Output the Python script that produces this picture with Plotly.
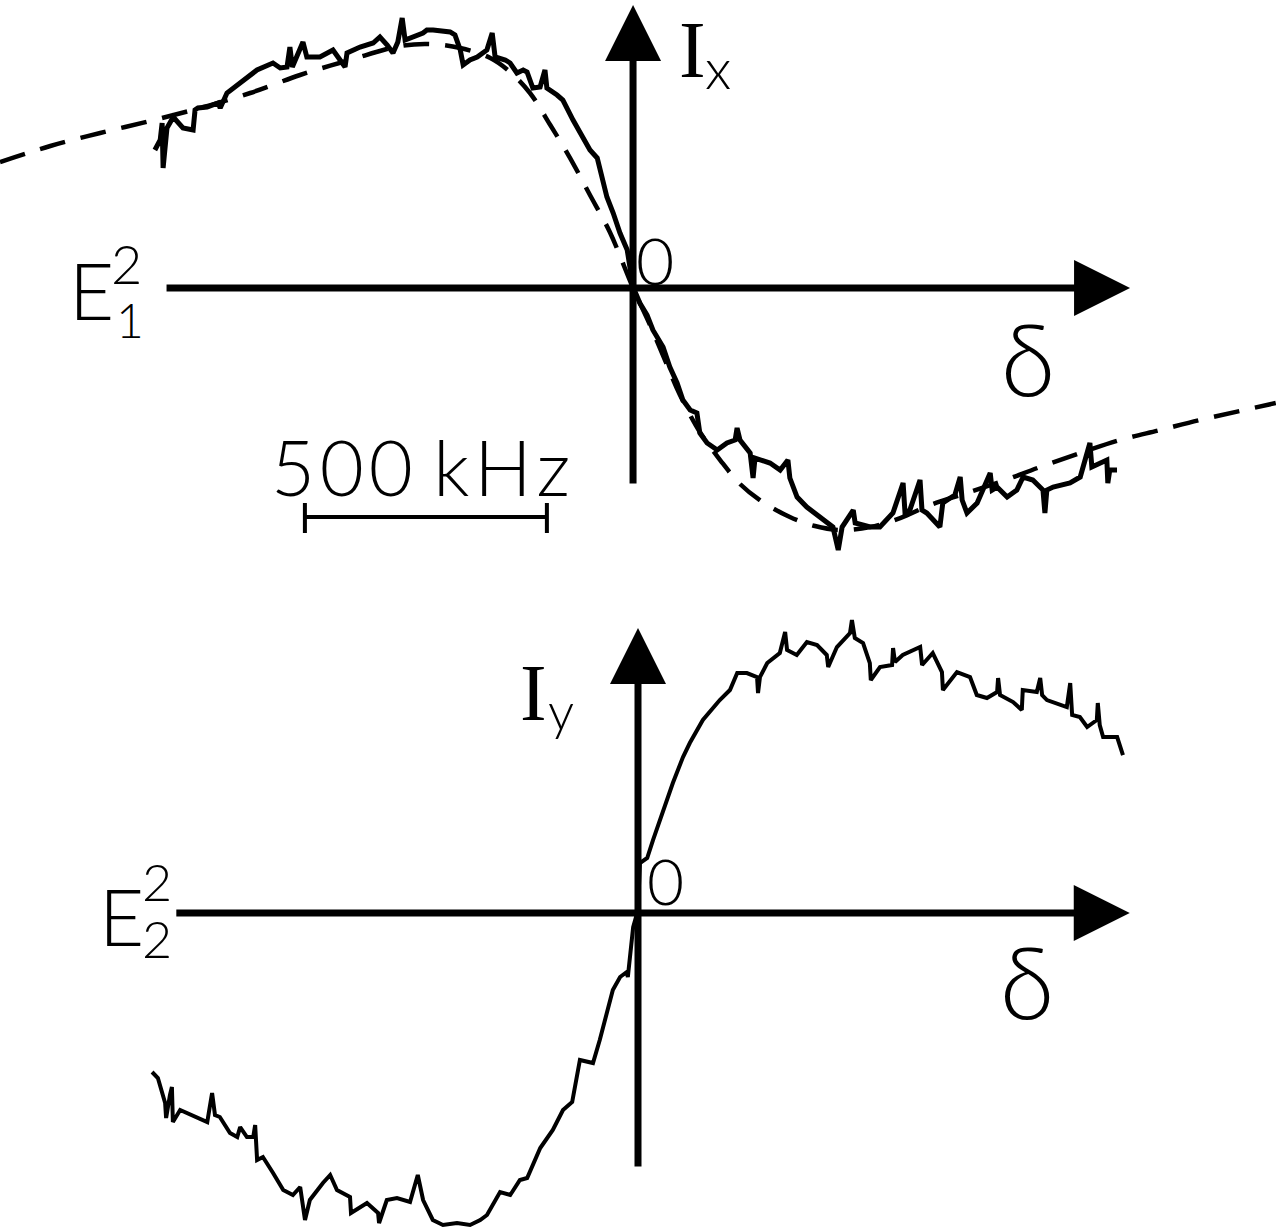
import plotly.graph_objects as go

# Detuning delta in kHz (500 kHz scale bar), signals in arbitrary units.
# Top trace: I_x (dispersive signal) with fitted curve (dashed)
ix_detuning = [
    -988, -977, -973, -971, -963, -950, -930, -909, -905, -899,
    -880, -857, -853, -839, -812, -797, -777, -744, -729, -715,
    -709, -704, -682, -674, -647, -620, -595, -591, -564, -537,
    -523, -508, -496, -486, -477, -471, -455, -434, -426, -413,
    -378, -368, -357, -351, -337, -322, -302, -291, -285, -264,
    -254, -240, -227, -219, -207, -192, -182, -178, -157, -145,
    -124, -110, -89, -74, -62, -54, -41, -27, -12, -6,
    0, 14, 29, 41, 62, 76, 91, 103, 118, 132,
    138, 153, 174, 194, 211, 215, 221, 242, 248, 252,
    283, 304, 320, 324, 339, 359, 386, 413, 424, 432,
    455, 459, 490, 510, 537, 558, 562, 572, 593, 597,
    607, 634, 640, 665, 676, 680, 690, 711, 738, 742,
    752, 773, 793, 806, 826, 847, 851, 855, 868, 903,
    924, 944, 948, 979, 981, 985, 1000]
ix_signal = [
    1.38, 1.48, 1.65, 1.20, 1.60, 1.71, 1.60, 1.58, 1.78, 1.80,
    1.81, 1.85, 1.80, 1.95, 2.05, 2.11, 2.18, 2.25, 2.20, 2.21,
    2.41, 2.21, 2.46, 2.31, 2.31, 2.38, 2.21, 2.35, 2.41, 2.45,
    2.51, 2.43, 2.35, 2.46, 2.70, 2.48, 2.51, 2.55, 2.58, 2.58,
    2.56, 2.53, 2.38, 2.23, 2.28, 2.31, 2.38, 2.55, 2.31, 2.28,
    2.25, 2.15, 2.18, 2.16, 2.00, 2.01, 2.18, 2.00, 1.93, 1.88,
    1.68, 1.55, 1.38, 1.30, 1.08, 0.91, 0.75, 0.55, 0.38, 0.21,
    0.01, -0.15, -0.27, -0.42, -0.59, -0.79, -0.95, -1.12, -1.22, -1.25,
    -1.45, -1.55, -1.62, -1.55, -1.52, -1.40, -1.52, -1.65, -1.90, -1.70,
    -1.75, -1.82, -1.72, -1.90, -2.09, -2.19, -2.29, -2.39, -2.62, -2.39,
    -2.22, -2.35, -2.39, -2.39, -2.25, -1.95, -2.25, -2.22, -1.92, -2.22,
    -2.25, -2.39, -2.15, -2.07, -1.89, -2.12, -2.25, -2.15, -1.85, -2.02,
    -1.99, -2.09, -2.02, -1.89, -1.92, -2.02, -2.25, -2.02, -1.99, -1.95,
    -1.89, -1.55, -1.79, -1.72, -1.95, -1.82, -1.82]

ix_fit_detuning = [-1308, -1204, -1101, -998, -895, -791, -688, -585, -481, -419,
                   -357, -295, -254, -213, -171, -130, -89, -48, 0, 35,
                   66, 97, 138, 180, 221, 262, 324, 376, 428, 490,
                   552, 614, 676, 758, 841, 924, 1006, 1089, 1171, 1254, 1328]
ix_fit_signal = [1.26, 1.42, 1.55, 1.67, 1.80, 1.95, 2.13, 2.28, 2.42, 2.44,
                 2.40, 2.30, 2.16, 1.95, 1.63, 1.30, 0.93, 0.56, 0.0, -0.37,
                 -0.72, -1.07, -1.44, -1.72, -1.96, -2.12, -2.29, -2.38, -2.42, -2.39,
                 -2.30, -2.17, -2.07, -1.94, -1.79, -1.65, -1.52, -1.42, -1.32, -1.23, -1.15]

# Bottom trace: I_y
iy_detuning = [
    -1004, -992, -977, -975, -967, -963, -961, -946, -890, -880,
    -874, -864, -843, -828, -822, -808, -795, -791, -787, -775,
    -754, -733, -713, -698, -688, -678, -651, -636, -622, -595,
    -593, -560, -537, -535, -519, -498, -471, -455, -444, -424,
    -403, -374, -347, -326, -312, -285, -264, -244, -229, -202,
    -176, -155, -136, -120, -93, -79, -52, -37, -23, -21,
    -10, 0,
    4, 19, 31, 52, 72, 93, 107, 134, 169, 190,
    205, 225, 246, 248, 252, 267, 293, 304, 308, 328,
    349, 370, 390, 393, 411, 438, 442, 448, 465, 479,
    481, 500, 525, 527, 531, 547, 583, 587, 609, 628,
    630, 659, 686, 700, 721, 742, 744, 748, 775, 793,
    795, 824, 831, 835, 845, 886, 893, 897, 913, 928,
    948, 950, 954, 961, 990, 1002]
iy_signal = [
    -1.59, -1.65, -1.90, -2.05, -1.82, -1.74, -2.09, -1.97, -2.09, -1.80,
    -2.02, -2.04, -2.20, -2.24, -2.14, -2.24, -2.24, -2.12, -2.47, -2.44,
    -2.60, -2.77, -2.82, -2.74, -3.07, -2.87, -2.70, -2.62, -2.77, -2.84,
    -3.00, -2.90, -3.00, -3.10, -2.87, -2.85, -2.89, -2.62, -2.87, -3.07,
    -3.12, -3.10, -3.12, -3.07, -3.02, -2.79, -2.82, -2.67, -2.65, -2.35,
    -2.17, -1.97, -1.89, -1.47, -1.50, -1.27, -0.77, -0.64, -0.59, -0.64,
    -0.14, 0.03,
    0.50, 0.55, 0.73, 1.03, 1.30, 1.56, 1.70, 1.93, 2.13, 2.23,
    2.40, 2.40, 2.36, 2.20, 2.36, 2.50, 2.60, 2.81, 2.63, 2.58,
    2.71, 2.68, 2.58, 2.46, 2.66, 2.80, 2.93, 2.75, 2.70, 2.50,
    2.33, 2.46, 2.48, 2.65, 2.51, 2.58, 2.66, 2.48, 2.60, 2.41,
    2.23, 2.41, 2.36, 2.18, 2.15, 2.21, 2.35, 2.18, 2.11, 2.03,
    2.23, 2.21, 2.35, 2.18, 2.13, 2.06, 2.30, 1.98, 1.96, 1.86,
    1.93, 2.10, 1.88, 1.76, 1.76, 1.58]

scale_bar_khz = 500
scale_bar_start = -678

W, H = 1276, 1232
SANS = "Lato, DejaVu Sans"
SERIF = "Liberation Serif, DejaVu Serif"

fig = go.Figure()
fig.add_trace(go.Scatter(x=ix_fit_detuning, y=ix_fit_signal, mode="lines",
                         line=dict(color="black", width=4.5, dash="26px,16px", shape="spline"),
                         xaxis="x", yaxis="y"))
fig.add_trace(go.Scatter(x=ix_detuning, y=ix_signal, mode="lines",
                         line=dict(color="black", width=5), xaxis="x", yaxis="y"))
fig.add_trace(go.Scatter(x=iy_detuning, y=iy_signal, mode="lines",
                         line=dict(color="black", width=4), xaxis="x2", yaxis="y2"))


def axis_arrow(x0, y0, x1, y1, xr, yr):
    return dict(x=x1, y=y1, ax=x0, ay=y0, xref=xr, yref=yr, axref=xr, ayref=yr,
                text="", showarrow=True, arrowhead=2, arrowsize=1.6,
                arrowwidth=7, arrowcolor="black")


def label(text, px, py, size, family=SANS, weight=300):
    return dict(text=text, x=px / W, y=1 - py / H, xref="paper", yref="paper",
                showarrow=False, xanchor="center", yanchor="middle",
                font=dict(size=size, family=family, color="black", weight=weight))


HS = "\u200a"  # hair space, widens the lettering like the original

annotations = [
    axis_arrow(-967, 0, 1027, 0, "x", "y"),
    axis_arrow(0, -1.97, 0, 2.83, "x", "y"),
    axis_arrow(-957, 0, 1016, 0, "x2", "y2"),
    axis_arrow(0, -2.55, 0, 2.85, "x2", "y2"),
    # top panel labels
    label("E", 91, 290, 78),
    label("2", 126, 263, 54),
    label("1", 130, 320, 48),
    label("I", 692, 50, 80, SERIF, 400),
    label("x", 718, 67, 56),
    label("0", 655, 259, 66),
    label("δ", 1028, 357, 100),
    label(HS.join("500") + " " + HS.join("kHz"), 420, 466, 76),
    # bottom panel labels
    label("E", 121, 916, 78),
    label("2", 157, 881, 52),
    label("2", 157, 938, 52),
    label("I", 533, 693, 80, SERIF, 400),
    label("y", 561, 710, 52),
    label("0", 665, 880, 64),
    label("δ", 1027, 980, 100),
]

shapes = [
    dict(type="line", xref="x", yref="y", x0=scale_bar_start, x1=scale_bar_start + scale_bar_khz,
         y0=-2.29, y1=-2.29, line=dict(color="black", width=4)),
    dict(type="line", xref="x", yref="y", x0=scale_bar_start, x1=scale_bar_start,
         y0=-2.15, y1=-2.45, line=dict(color="black", width=4)),
    dict(type="line", xref="x", yref="y", x0=scale_bar_start + scale_bar_khz,
         x1=scale_bar_start + scale_bar_khz, y0=-2.15, y1=-2.45, line=dict(color="black", width=4)),
]

fig.update_layout(
    width=W, height=H, margin=dict(l=0, r=0, t=0, b=0),
    paper_bgcolor="white", plot_bgcolor="white", showlegend=False,
    xaxis=dict(domain=[0, 1], range=[-1308, 1328.5], visible=False),
    yaxis=dict(domain=[0.5292, 1], range=[-2.92, 2.88], visible=False),
    xaxis2=dict(domain=[0, 1], range=[-1318.2, 1318.2], anchor="y2", visible=False),
    yaxis2=dict(domain=[0, 0.5292], range=[-3.19, 3.33], anchor="x2", visible=False),
    annotations=annotations, shapes=shapes,
)

fig.write_html("out.html", config={"displayModeBar": False},
               post_script="document.body.style.margin='0';")
